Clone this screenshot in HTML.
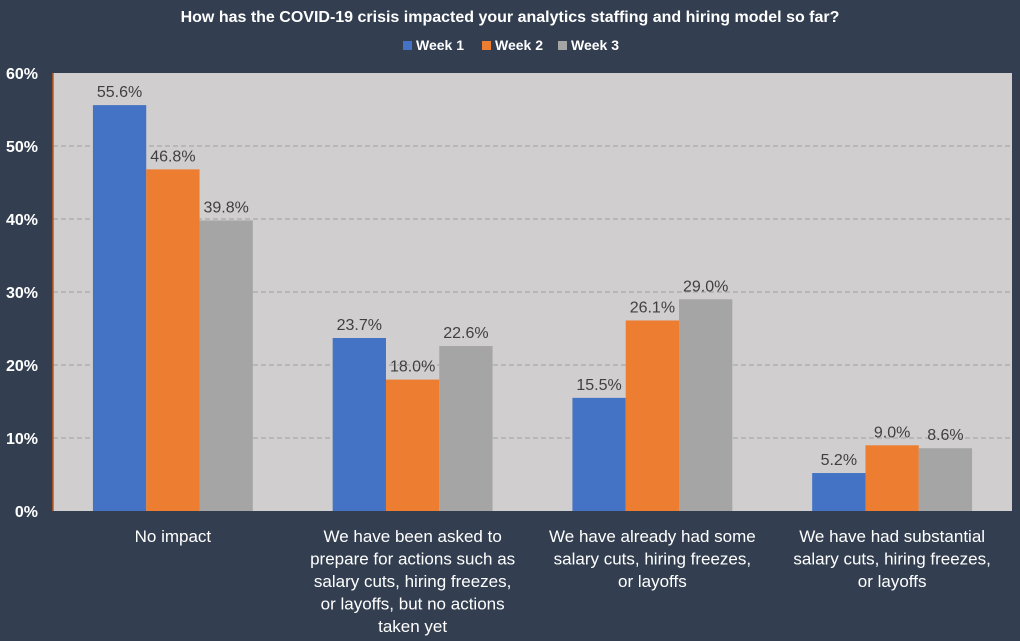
<!DOCTYPE html>
<html><head><meta charset="utf-8"><style>
body{margin:0;background:#333f50;}
svg{display:block;font-family:"Liberation Sans",Arial,sans-serif;}
</style></head><body>
<svg id="chart" width="1020" height="641">
<rect x="0" y="0" width="1020" height="641" fill="#333f50"/>
<text x="510" y="22" text-anchor="middle" fill="#fff" font-size="16" font-weight="bold">How has the COVID-19 crisis impacted your analytics staffing and hiring model so far?</text>
<g id="legend"></g>
<rect x="53" y="73" width="959" height="438" fill="#d0cece"/>
<g id="grid"></g><g id="bars"></g><g id="labels"></g>
<line x1="53" y1="73" x2="53" y2="511" stroke="#c55a11" stroke-width="1.5"/>
</svg>
<script>
const categories=[["No impact"],["We have been asked to","prepare for actions such as","salary cuts, hiring freezes,","or layoffs, but no actions","taken yet"],["We have already had some","salary cuts, hiring freezes,","or layoffs"],["We have had substantial","salary cuts, hiring freezes,","or layoffs"]];
const seriesNames=["Week 1","Week 2","Week 3"];
const week1=[55.6,23.7,15.5,5.2];
const week2=[46.8,18.0,26.1,9.0];
const week3=[39.8,22.6,29.0,8.6];
const yTicks=[0,10,20,30,40,50,60];
const colors=["#4472c4","#ed7d31","#a5a5a5"];
const series=[week1,week2,week3];
const NS="http://www.w3.org/2000/svg";
const X0=53,X1=1012,Y0=511,Y1=73,YMAX=60;
const y=v=>Y0-(v/YMAX)*(Y0-Y1);
const cw=(X1-X0)/categories.length, bw=53.3;
const x=(c,s)=>X0+c*cw+(cw-3*bw)/2+s*bw;
function el(t,a,p,txt){const e=document.createElementNS(NS,t);for(const k in a)e.setAttribute(k,a[k]);if(txt!==undefined)e.textContent=txt;document.getElementById(p).appendChild(e);return e;}
yTicks.forEach(t=>{
  if(t>0&&t<YMAX){const l=el('line',{x1:X0,x2:X1,y1:y(t),y2:y(t),stroke:'#a0a0a0','stroke-dasharray':'5,3'},'grid');
  
  }
  const tx=el('text',{x:38,y:y(t)+6,'text-anchor':'end',fill:'#fff','font-size':16,'font-weight':'bold'},'labels',t+'%');
  
  
});
series.forEach((arr,s)=>arr.forEach((v,c)=>{
  const r=el('rect',{x:x(c,s),y:y(v),width:bw,height:Y0-y(v),fill:colors[s]},'bars');
  
  
  const t=el('text',{x:x(c,s)+bw/2,y:y(v)-8,'text-anchor':'middle',fill:'#404040','font-size':16},'labels',v.toFixed(1)+'%');
  
  
}));
categories.forEach((lines,c)=>{
  lines.forEach((ln,i)=>{
    const t=el('text',{x:X0+c*cw+cw/2,y:542+i*22.5,'text-anchor':'middle',fill:'#fff','font-size':17},'labels',ln);
    
    
  });
});
const lx=[403,482,558];
seriesNames.forEach((n,i)=>{
  const r=el('rect',{x:lx[i],y:41,width:9,height:9,fill:colors[i]},'legend');
  
  
  const t=el('text',{x:lx[i]+13,y:50,fill:'#fff','font-size':14,'font-weight':'bold'},'legend',n);
  
  
});
</script>
</body></html>
